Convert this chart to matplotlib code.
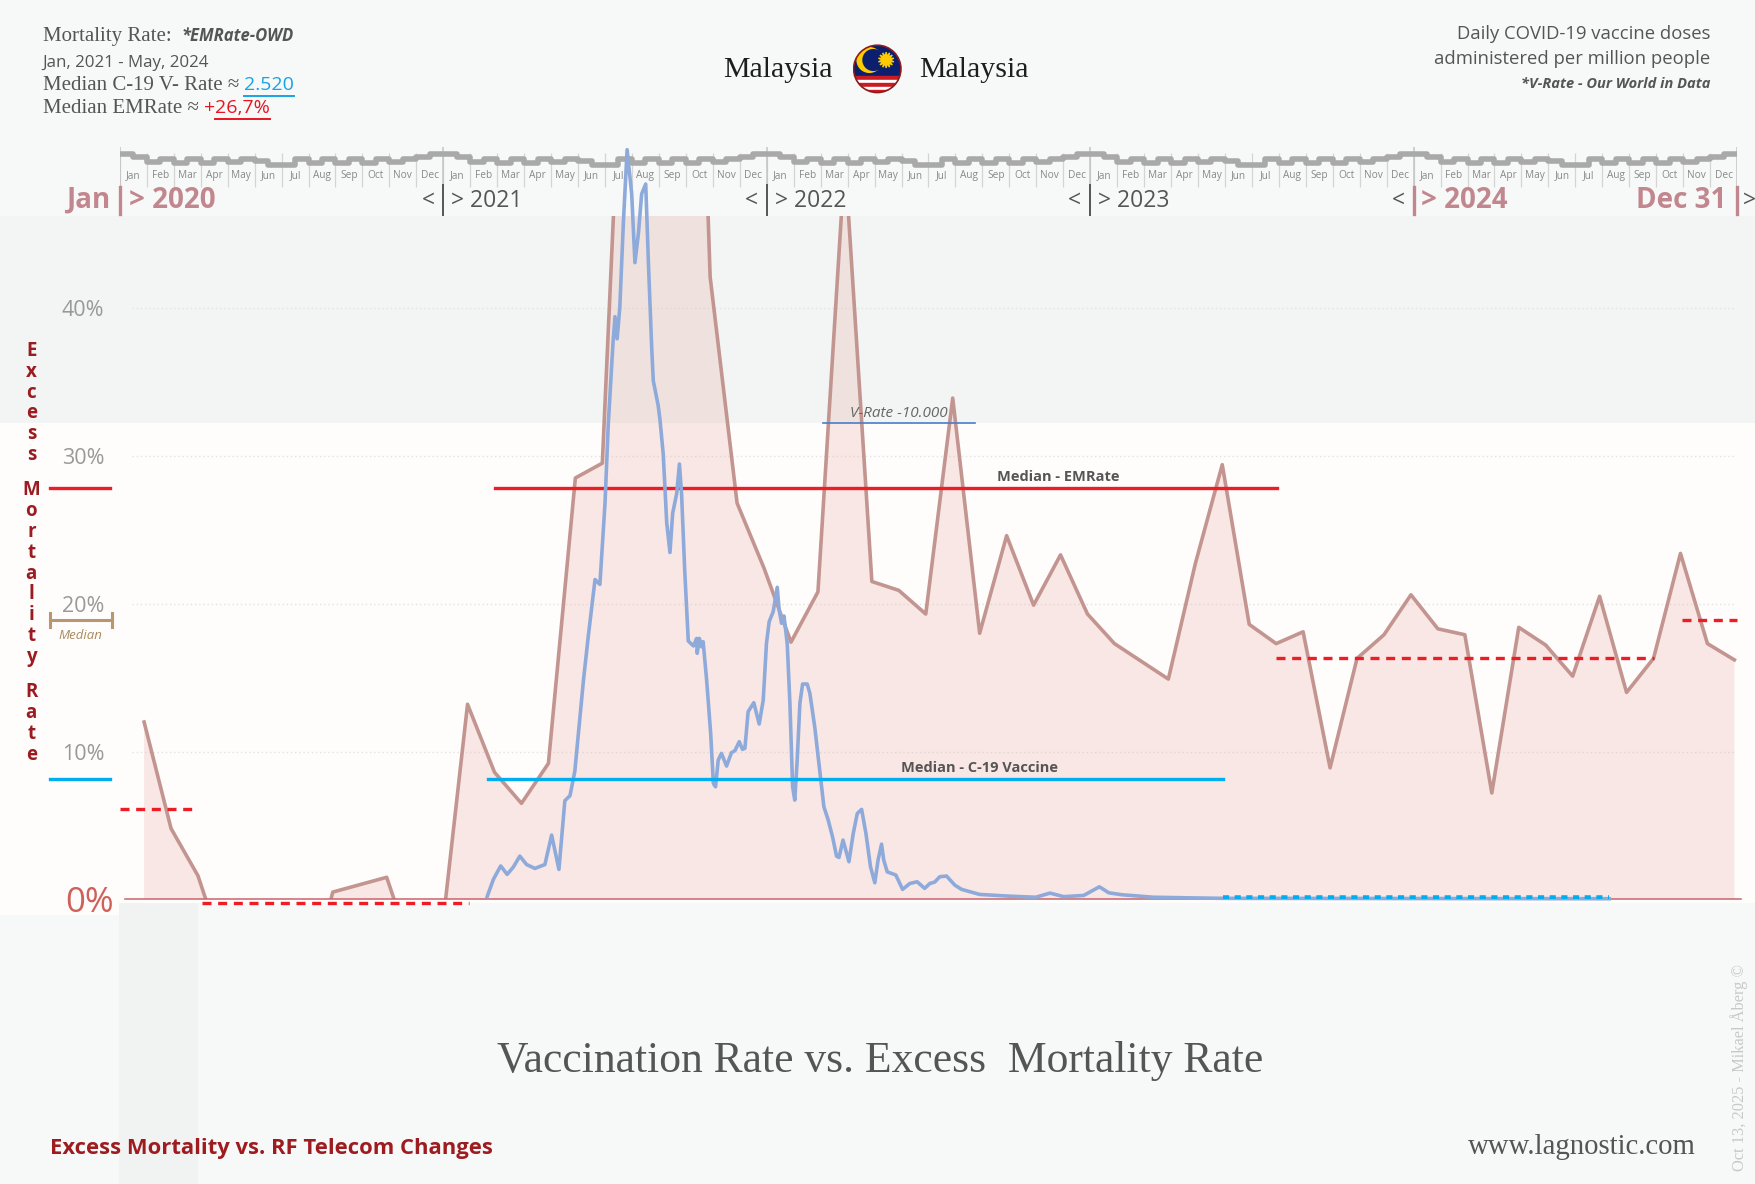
import numpy as np
import matplotlib
matplotlib.use("Agg")
import matplotlib.pyplot as plt
from matplotlib.patches import Rectangle, Circle, Polygon
from matplotlib.lines import Line2D

# layout frame in which positions were measured (output is 1755x1184)
W, H = 1567.0, 1057.0


def fx(x):
    return x / W


def fy(y):
    return 1.0 - y / H


SERIF = ['Liberation Serif', 'DejaVu Serif']
SANS = ['Open Sans', 'DejaVu Sans']
GREY = '#555555'
ROSE = '#c2878e'

# ---------------- data ----------------
months = ['Jan', 'Feb', 'Mar', 'Apr', 'May', 'Jun',
          'Jul', 'Aug', 'Sep', 'Oct', 'Nov', 'Dec']
years = [2020, 2021, 2022, 2023, 2024]

# excess mortality rate in % (monthly, Jan 2020 - Dec 2024); peaks above ~46 % run off the chart
emrate = [12.0, 4.8, 1.6, -3.9, -7.5, -8.0, -6.7, 0.5, 1.0, 1.5, -3.9, -3.0,
          13.2, 8.6, 6.5, 9.2, 28.5, 29.5, 70.0, 110.0, 97.0, 42.1, 26.8, 22.4,
          17.4, 20.8, 50.1, 21.5, 20.9, 19.3, 33.9, 18.0, 24.6, 19.9, 23.3, 19.3,
          17.3, 16.1, 14.9, 22.7, 29.4, 18.6, 17.3, 18.1, 8.9, 16.3, 17.9, 20.6,
          18.3, 17.9, 7.2, 18.4, 17.2, 15.1, 20.5, 14.0, 16.3, 23.4, 17.3, 16.2]
em_t = np.arange(len(emrate)) + 0.9   # months since 1 Jan 2020 (value sits at month end)

# daily COVID-19 vaccine doses per million people (months since 1 Jan 2020)
vax_t = [13.63, 13.86, 14.13, 14.37, 14.60, 14.84, 15.09, 15.40, 15.77, 16.02,
         16.29, 16.51, 16.70, 16.88, 17.20, 17.38, 17.63, 17.81, 18.00, 18.12,
         18.30, 18.37, 18.45, 18.55, 18.68, 18.82, 18.99, 19.11, 19.24, 19.36,
         19.51, 19.61, 19.73, 19.79, 19.97, 20.04, 20.16, 20.29, 20.41, 20.51,
         20.66, 20.76, 20.84, 20.96, 21.09, 21.28, 21.40, 21.42, 21.50, 21.58,
         21.64, 21.77, 21.92, 22.02, 22.10, 22.20, 22.32, 22.51, 22.69, 22.82,
         22.98, 23.10, 23.19, 23.31, 23.52, 23.72, 23.87, 23.99, 24.09, 24.24,
         24.39, 24.46, 24.55, 24.64, 24.76, 24.86, 24.96, 25.04, 25.13, 25.23,
         25.33, 25.50, 25.60, 25.78, 25.95, 26.12, 26.28, 26.44, 26.59, 26.68,
         26.83, 27.05, 27.21, 27.36, 27.52, 27.68, 27.85, 28.01, 28.13, 28.26,
         28.34, 28.47, 28.79, 29.04, 29.31, 29.58, 29.86, 30.05, 30.23, 30.42,
         30.67, 30.98, 31.23, 31.90, 32.95, 33.98, 34.51, 35.02, 35.76, 36.34,
         36.69, 37.18, 38.35, 39.59, 40.92, 55.26]
vax_rate = [64, 424, 704, 527, 682, 911, 734, 652, 734, 1353,
            631, 2075, 2179, 2694, 4602, 5532, 6718, 6617, 8318, 9970,
            11722, 12238, 11774, 12445, 14201, 15746, 14819, 13374, 13993, 14819,
            15024, 13374, 11619, 10897, 10381, 10071, 9351, 7906, 7287, 8111,
            8525, 9144, 8525, 6873, 5428, 5325, 5482, 5170, 5482, 5308,
            5414, 4610, 3487, 2438, 2367, 2927, 3068, 2802, 3082, 3125,
            3313, 3153, 3174, 3944, 4132, 3685, 4188, 5379, 5833, 6045,
            6556, 6080, 5800, 5953, 5379, 4118, 2367, 2087, 2927, 4118,
            4525, 4525, 4330, 3628, 2788, 1948, 1668, 1318, 911, 882,
            1247, 793, 1388, 1807, 1892, 1388, 687, 351, 828, 1162,
            828, 581, 513, 212, 336, 372, 233, 336, 365, 478,
            492, 301, 212, 106, 71, 47, 134, 59, 85, 266,
            141, 99, 47, 35, 24, 16]

em_median = 27.8
vax_median = 2520
vrate_ref = 10000

# period medians of the excess mortality (dashed red)
em_period_start = [0.0, 3.03, 42.9, 57.96]
em_period_end = [2.9, 12.96, 56.9, 60.0]
em_period_val = [6.1, -0.25, 16.3, 18.9]

# stepped seasonal band of the month strip, px offsets per half month
strip_levels = [(0, 3), (7, 4), (8, 4), (8, 4), (7, 4), (6, 10),
                (10, 4), (8, 4), (8, 4), (8, 4), (7, 4), (3, 0)]

# ---------------- figure ----------------
fig = plt.figure(figsize=(17.55, 11.84), dpi=100, facecolor='#f7f9f9')


def band(x0, y0, x1, y1, color):
    fig.add_artist(Rectangle((fx(x0), fy(y1)), fx(x1) - fx(x0), fy(y0) - fy(y1),
                             transform=fig.transFigure, facecolor=color,
                             edgecolor='none', zorder=-5))


band(0, 193, W, 378, '#f3f4f4')
band(0, 378, W, 806, '#fffcfc')
band(0, 806, 106, 817, '#fffcfc')
band(106, 806, 177, H, '#f1f2f2')

# month strip
ax_s = fig.add_axes([fx(107), fy(170), fx(1551) - fx(107), (170 - 128) / H])
ax_s.set_xlim(0, 60)
ax_s.set_ylim(170, 128)
ax_s.axis('off')
ax_s.set_zorder(1)
xs, ys = [], []
for m in range(60):
    lv = strip_levels[m % 12]
    xs += [m, m + 0.5]
    ys += [137.5 + lv[0], 137.5 + lv[1]]
xs.append(60)
ys.append(ys[-1])
ax_s.vlines(range(61), 137, 167, colors='#d4d4d4', lw=0.9)
ax_s.vlines(range(0, 61, 12), 131, 167, colors='#c4c4c4', lw=1.1)
ax_s.step(xs, ys, where='post', color='#a9a9a9', lw=4.0, zorder=3)
for m in range(60):
    ax_s.text(m + 0.5, 157, months[m % 12], ha='center', va='center',
              fontsize=7.3, color='#888888', family=SANS)

ylab = 179
for i, yr in enumerate(years):
    t = 12 * i
    if i == 0:
        ax_s.text(t - 0.37, ylab, 'Jan', ha='right', va='center', fontsize=20,
                  fontweight='bold', color=ROSE, family=SANS)
        ax_s.plot([t, t], [167, 191], color=ROSE, lw=2.4, clip_on=False)
        ax_s.text(t + 0.33, ylab, '> %d' % yr, ha='left', va='center', fontsize=20,
                  fontweight='bold', color=ROSE, family=SANS)
    elif yr == 2024:
        ax_s.text(t - 0.33, ylab, '<', ha='right', va='center', fontsize=16.5,
                  color=GREY, family=SANS)
        ax_s.plot([t, t], [167, 191], color=ROSE, lw=2.4, clip_on=False)
        ax_s.text(t + 0.29, ylab, '> %d' % yr, ha='left', va='center', fontsize=20,
                  fontweight='bold', color=ROSE, family=SANS)
    else:
        ax_s.text(t - 0.33, ylab, '<', ha='right', va='center', fontsize=16.5,
                  color=GREY, family=SANS)
        ax_s.plot([t, t], [165, 192], color=GREY, lw=1.4, clip_on=False)
        ax_s.text(t + 0.29, ylab, '> %d' % yr, ha='left', va='center', fontsize=16.5,
                  color=GREY, family=SANS)
ax_s.text(59.6, ylab, 'Dec 31', ha='right', va='center', fontsize=20,
          fontweight='bold', color=ROSE, family=SANS)
ax_s.plot([60, 60], [167, 191], color=ROSE, lw=2.4, clip_on=False)
ax_s.text(60.2, ylab, '>', ha='left', va='center', fontsize=16.5, color=GREY, family=SANS)

# main axes (excess mortality, %)
ax = fig.add_axes([fx(107), fy(803), fx(1551) - fx(107), fy(193) - fy(803)])
ax.set_zorder(2)
ax.patch.set_visible(False)
for s in ax.spines.values():
    s.set_visible(False)
ax.set_xlim(0, 60)
ax.set_ylim(0, 46.2)
ax.set_xticks([])
ax.set_yticks([0, 10, 20, 30, 40])
ax.set_yticklabels(['0%', '10%', '20%', '30%', '40%'], family=SANS, fontsize=15.5,
                   color='#999999')
ax.tick_params(axis='y', length=0)
tl = ax.get_yticklabels()
tl[0].set_fontsize(25)
tl[0].set_color('#d0605a')
for i, tk in enumerate(ax.yaxis.get_major_ticks()):
    tk.set_pad(4.4 if i == 0 else 11.3)

for g in [10, 20, 30, 40]:
    ax.plot([0.46, 59.95], [g, g], ls=(0, (1, 2)), color='#e2e2e2', lw=1, zorder=0.5)

em = np.array(emrate)
ax.fill_between(em_t, em, 0, color='#e8b4a8', alpha=0.28, lw=0, zorder=1)
ax.plot(em_t, em, color='#c39590', lw=2.6, zorder=3)
ax.plot([0.21, 60.16], [0, 0], color='#c9646c', lw=1.1, clip_on=False, zorder=4)

# medians
ax.plot([13.92, 42.92], [em_median] * 2, color='#ee1c25', lw=2.4, zorder=5)
ax.plot([-2.58, -0.37], [em_median] * 2, color='#ee1c25', lw=2.4, clip_on=False)
ax.annotate('Median - EMRate', (34.8, em_median), xytext=(0, 3), textcoords='offset points',
            ha='center', va='bottom', fontsize=10.5, fontweight='bold', color=GREY,
            family=SANS)
for s0, s1, v in zip(em_period_start, em_period_end, em_period_val):
    ax.plot([s0, s1], [v, v], color='#ee1c25', lw=2.4, dashes=(2.7, 2.0),
            clip_on=False, zorder=6)

# tan "median" bracket left of the axis
ax.plot([-2.58, -0.29], [18.9, 18.9], color='#b8976e', lw=2.2, clip_on=False)
for xe in [-2.58, -0.29]:
    ax.plot([xe, xe], [18.45, 19.35], color='#b8976e', lw=2.2, clip_on=False)
ax.text(-1.45, 18.3, 'Median', ha='center', va='top', fontsize=9.5, style='italic',
        color='#a88b60', family=SANS)

# vaccine axis (doses per million) - 10.000 sits at 32.2 % on the EMRate scale
ax2 = ax.twinx()
ax2.set_zorder(3)
ax2.set_ylim(0, 46.2 * vrate_ref / (425 / 13.2))
ax2.axis('off')
ax2.plot(vax_t, vax_rate, color='#8eaadb', lw=2.6, clip_on=False, zorder=4)
ax2.plot([13.67, 40.92], [vax_median] * 2, color='#00aeef', lw=2.4, zorder=5)
ax2.plot([-2.58, -0.37], [vax_median] * 2, color='#00aeef', lw=2.4, clip_on=False)
ax2.annotate('Median - C-19 Vaccine', (31.9, vax_median), xytext=(0, 3),
             textcoords='offset points', ha='center', va='bottom', fontsize=10.5,
             fontweight='bold', color=GREY, family=SANS)
ax2.plot([40.92, 55.26], [25, 25], color='#00aeef', lw=4, dashes=(1.1, 1.0),
         dash_capstyle='butt', zorder=6)
ax2.plot([26.09, 31.74], [vrate_ref] * 2, color='#4a7cc9', lw=1.2, zorder=5)
ax2.annotate('V-Rate -10.000', (28.9, vrate_ref), xytext=(0, 2), textcoords='offset points',
             ha='center', va='bottom', fontsize=11, style='italic', color='#666666',
             family=SANS)

# vertical axis title, letter by letter
yy = 313.0
for w_i, word in enumerate(['Excess', 'Mortality', 'Rate']):
    for ch in word:
        fig.text(fx(28), fy(yy), ch, ha='center', va='center', fontsize=13.5,
                 fontweight='bold', color='#9b1c20', family=SANS)
        yy += 18.7
    yy += 12

# ---------------- header texts ----------------
renderer = fig.canvas.get_renderer()


def text_run(x, y, parts):
    xf = fx(x)
    boxes = []
    for s, kw in parts:
        t = fig.text(xf, fy(y), s, ha='left', va='baseline', **kw)
        bb = t.get_window_extent(renderer=renderer)
        boxes.append(bb)
        xf = bb.x1 / fig.bbox.width
    return boxes


def underline(bb, color):
    y = (bb.y0 - 2) / fig.bbox.height
    fig.add_artist(Line2D([bb.x0 / fig.bbox.width, bb.x1 / fig.bbox.width], [y, y],
                          transform=fig.transFigure, color=color, lw=1.4))


ser = dict(family=SERIF, fontsize=15, color=GREY)
text_run(38, 36.3, [('Mortality Rate:  ', ser),
                    ('*EMRate-OWD', dict(family=SANS, fontsize=12, fontweight='bold',
                                         style='italic', color=GREY))])
fig.text(fx(38), fy(59.5), 'Jan, 2021 - May, 2024', ha='left', va='baseline',
         family=SANS, fontsize=12.2, color=GREY)
b = text_run(38, 80.4, [('Median C-19 V- Rate \u2248 ', ser),
                        ('2.520', dict(family=SANS, fontsize=14, color='#17a3e4'))])
underline(b[1], '#17a3e4')
b = text_run(38, 101.2, [('Median EMRate \u2248 ', ser),
                         ('+', dict(family=SANS, fontsize=14, color='#e8141e')),
                         ('26,7%', dict(family=SANS, fontsize=14, color='#e8141e'))])
underline(b[2], '#e8141e')

fig.text(fx(1527), fy(35.1), 'Daily COVID-19 vaccine doses', ha='right', va='baseline',
         family=SANS, fontsize=13.3, color=GREY)
fig.text(fx(1527), fy(57.1), 'administered per million people', ha='right', va='baseline',
         family=SANS, fontsize=13.3, color=GREY)
fig.text(fx(1527), fy(78.9), '*V-Rate - Our World in Data', ha='right', va='baseline',
         family=SANS, fontsize=10.5, fontweight='bold', style='italic', color=GREY)

fig.text(fx(743.5), fy(68.5), 'Malaysia', ha='right', va='baseline', family=SERIF,
         fontsize=21.5, color='#1e1e1e')
fig.text(fx(820.8), fy(68.5), 'Malaysia', ha='left', va='baseline', family=SERIF,
         fontsize=21.5, color='#1e1e1e')

# flag of Malaysia in a round badge
fa = fig.add_axes([fx(761.3), fy(83.5), 44 / W, 44 / H])
fa.set_xlim(-1, 1)
fa.set_ylim(-1, 1)
fa.axis('off')
clip = Circle((0, 0), 0.96, transform=fa.transData)
parts = [Rectangle((-1, -0.29), 2, 1.3, color='#0b1f6e')]
edges = np.linspace(-0.29, -1.0, 6)
for i in range(5):
    parts.append(Rectangle((-1, edges[i + 1]), 2, edges[i] - edges[i + 1],
                           color='#cc1a22' if i % 2 == 0 else 'white'))
parts.append(Circle((-0.32, 0.36), 0.5, color='#ffcc00'))
parts.append(Circle((-0.16, 0.36), 0.42, color='#0b1f6e'))
ang = np.linspace(0, 2 * np.pi, 28, endpoint=False) + np.pi / 2
rad = np.where(np.arange(28) % 2 == 0, 0.32, 0.15)
parts.append(Polygon(np.c_[0.36 + rad * np.cos(ang), 0.36 + rad * np.sin(ang)],
                     color='#ffcc00'))
for p in parts:
    fa.add_patch(p)
    p.set_clip_path(clip)
fa.add_patch(Circle((0, 0), 0.96, fill=False, edgecolor='#8a1c1c', lw=1.2))

# ---------------- footer ----------------
fig.text(fx(786), fy(957), 'Vaccination Rate vs. Excess  Mortality Rate', ha='center',
         va='baseline', family=SERIF, fontsize=31.4, color=GREY)
fig.text(fx(45), fy(1030), 'Excess Mortality vs. RF Telecom Changes', ha='left',
         va='baseline', family=SANS, fontsize=15.8, fontweight='bold', color='#9e1b20')
fig.text(fx(1514), fy(1030), 'www.lagnostic.com', ha='right', va='baseline',
         family=SERIF, fontsize=20.7, color=GREY)
fig.text(fx(1553), fy(1045), 'Oct 13, 2025 - Mikael \u00c5berg \u00a9', ha='center',
         va='bottom', rotation=90, family=SERIF, fontsize=11.8, color='#c8c8c8')

fig.savefig('out.png', dpi=100, facecolor=fig.get_facecolor())
